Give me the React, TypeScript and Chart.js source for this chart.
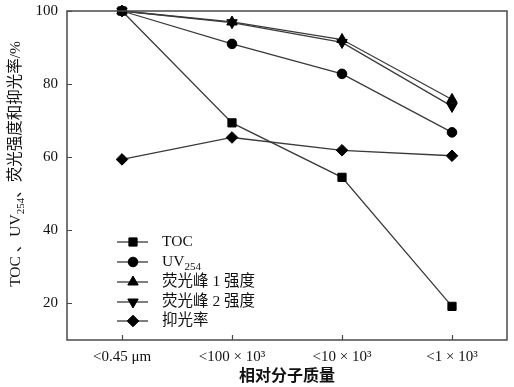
import React, { useEffect, useRef } from 'react';
import { Chart, registerables } from 'chart.js';
import { drawPoint } from 'chart.js/helpers';

Chart.register(...registerables);

const categories = ['<0.45 μm', '<100 × 10³', '<10 × 10³', '<1 × 10³'];
const yTicks = [20, 40, 60, 80, 100];
const tocValues = [100, 69.4, 54.5, 19.2];
const uv254Values = [100, 91.0, 82.8, 66.8];
const peak1Values = [100, 97.0, 92.2, 75.8];
const peak2Values = [100, 96.8, 91.4, 73.9];
const suppressionValues = [59.4, 65.4, 61.9, 60.4];
const seriesNames = ['TOC', 'UV254', '荧光峰 1 强度', '荧光峰 2 强度', '抑光率'];

const LATIN = '"Liberation Serif", "Times New Roman", "Noto Sans CJK SC", serif';
const LINE_COLOR = '#3a3a3a';
const AXIS_COLOR = '#4a4a4a';

function drawRich(ctx: CanvasRenderingContext2D, text: string, x: number, y: number, size: number) {
  const m = text.match(/^(.*UV)(254)(.*)$/);
  ctx.textBaseline = 'middle';
  ctx.textAlign = 'left';
  if (!m) {
    ctx.font = `${size}px ${LATIN}`;
    ctx.fillText(text, x, y);
    return ctx.measureText(text).width;
  }
  let cx = x;
  ctx.font = `${size}px ${LATIN}`;
  ctx.fillText(m[1], cx, y);
  cx += ctx.measureText(m[1]).width;
  const sub = Math.round(size * 0.68);
  ctx.font = `${sub}px ${LATIN}`;
  ctx.fillText(m[2], cx, y + size * 0.3);
  cx += ctx.measureText(m[2]).width;
  ctx.font = `${size}px ${LATIN}`;
  ctx.fillText(m[3], cx, y);
  cx += ctx.measureText(m[3]).width;
  return cx - x;
}

function measureRich(ctx: CanvasRenderingContext2D, text: string, size: number) {
  const m = text.match(/^(.*UV)(254)(.*)$/);
  ctx.font = `${size}px ${LATIN}`;
  if (!m) return ctx.measureText(text).width;
  let w = ctx.measureText(m[1]).width + ctx.measureText(m[3]).width;
  ctx.font = `${Math.round(size * 0.68)}px ${LATIN}`;
  w += ctx.measureText(m[2]).width;
  return w;
}

const decorPlugin = {
  id: 'decor',
  afterDraw(chart: any) {
    const { ctx, chartArea, scales } = chart;
    const { left, right, top, bottom } = chartArea;
    ctx.save();
    ctx.strokeStyle = AXIS_COLOR;
    ctx.lineWidth = 1.2;
    ctx.beginPath();
    yTicks.forEach((v) => {
      const py = Math.round(scales.y.getPixelForValue(v)) + 0.5;
      ctx.moveTo(left, py);
      ctx.lineTo(left + 5, py);
    });
    categories.forEach((_, i) => {
      const px = Math.round(scales.x.getPixelForValue(i)) + 0.5;
      ctx.moveTo(px, bottom);
      ctx.lineTo(px, bottom - 5);
    });
    ctx.stroke();
    ctx.lineWidth = 1.5;
    ctx.strokeRect(left, top, right - left, bottom - top);

    const title = 'TOC 、UV254、荧光强度和抑光率/%';
    const size = 15.5;
    const w = measureRich(ctx, title, size);
    ctx.translate(16, 164);
    ctx.rotate(-Math.PI / 2);
    ctx.fillStyle = '#111';
    drawRich(ctx, title, -w / 2, 0, size);
    ctx.restore();

    ctx.save();
    const rows = [242, 262, 282, 302, 321];
    chart.data.datasets.forEach((ds: any, i: number) => {
      const y = rows[i];
      ctx.strokeStyle = LINE_COLOR;
      ctx.lineWidth = 1.3;
      ctx.beginPath();
      ctx.moveTo(117, y);
      ctx.lineTo(148, y);
      ctx.stroke();
      ctx.fillStyle = '#000';
      ctx.strokeStyle = '#000';
      ctx.lineWidth = 1;
      drawPoint(ctx, { pointStyle: ds.pointStyle, rotation: ds.pointRotation || 0, radius: ds.pointRadius, borderWidth: 1 }, 133, y);
      ctx.fillStyle = '#111';
      drawRich(ctx, seriesNames[i], 162, y, 15.5);
    });
    ctx.restore();
  },
};

function makeDataset(label: string, data: number[], pointStyle: string, radius: number, rotation = 0) {
  return {
    label,
    data,
    borderColor: LINE_COLOR,
    borderWidth: 1.3,
    pointStyle,
    pointRotation: rotation,
    pointRadius: radius,
    pointBackgroundColor: '#000',
    pointBorderColor: '#000',
    pointBorderWidth: 1,
    fill: false,
    tension: 0,
    clip: false as any,
  };
}

export default function App() {
  const ref = useRef<HTMLCanvasElement | null>(null);
  useEffect(() => {
    document.body.style.margin = '0';
    const canvas = ref.current!;
    const chart = new Chart(canvas, {
      type: 'line',
      data: {
        labels: categories,
        datasets: [
          makeDataset(seriesNames[0], tocValues, 'rect', 5.8),
          makeDataset(seriesNames[1], uv254Values, 'circle', 4.8),
          makeDataset(seriesNames[2], peak1Values, 'triangle', 6),
          makeDataset(seriesNames[3], peak2Values, 'triangle', 6, 180),
          makeDataset(seriesNames[4], suppressionValues, 'rectRot', 5.8),
        ] as any,
      },
      options: {
        responsive: false,
        animation: false,
        devicePixelRatio: 1,
        layout: { padding: { top: 11, right: 3, left: 0, bottom: 0 } },
        plugins: {
          legend: { display: false },
          tooltip: { enabled: false },
        },
        scales: {
          x: {
            type: 'category',
            offset: true,
            grid: { display: false, drawTicks: false },
            border: { display: false },
            ticks: {
              color: '#111',
              font: { family: LATIN, size: 15 },
              padding: 8,
              maxRotation: 0,
              autoSkip: false,
            },
            title: {
              display: true,
              text: '相对分子质量',
              color: '#111',
              font: { family: LATIN, size: 16, weight: 'bold' },
              padding: { top: 0, bottom: 1 },
            },
            afterFit: (s: any) => {
              s.height = 47;
              s.paddingLeft = 0;
              s.paddingRight = 0;
            },
          },
          y: {
            min: 10,
            max: 100,
            grid: { display: false, drawTicks: false },
            border: { display: false },
            ticks: {
              color: '#111',
              font: { family: LATIN, size: 15 },
              padding: 9,
            },
            afterBuildTicks: (s: any) => {
              s.ticks = yTicks.map((v) => ({ value: v }));
            },
            afterFit: (s: any) => {
              s.width = 67;
              s.paddingTop = 0;
              s.paddingBottom = 0;
            },
          },
        },
      } as any,
      plugins: [decorPlugin],
    });
    return () => chart.destroy();
  }, []);
  return (
    <div style={{ width: 514, height: 387, background: '#fff' }}>
      <canvas ref={ref} width={514} height={387} style={{ display: 'block' }} />
    </div>
  );
}
